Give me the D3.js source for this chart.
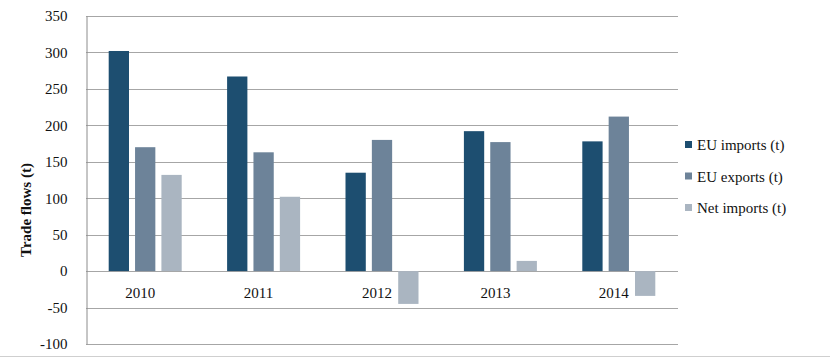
<!DOCTYPE html>
<html>
<head>
<meta charset="utf-8">
<script src="https://cdn.jsdelivr.net/npm/d3@7"></script>
<style>
  body { margin: 0; background: #fff; }
  text { font-family: "Liberation Serif", "Times New Roman", serif; fill: #111; }
</style>
</head>
<body>
<div id="chart"></div>
<script>
var years = ['2010', '2011', '2012', '2013', '2014'];
var seriesNames = ['EU imports (t)', 'EU exports (t)', 'Net imports (t)'];
var euImports = [302, 267, 135, 192, 178];
var euExports = [170, 163, 180, 177, 212];
var netImports = [132, 102, -45, 14, -34];
var yTicks = [-100, -50, 0, 50, 100, 150, 200, 250, 300, 350];
var colors = ['#1d4e70', '#6d8399', '#aab5c1'];

var width = 830, height = 359;
var plotLeft = 86, plotRight = 678, plotTop = 16, plotBottom = 344;

var svg = d3.select('#chart').append('svg')
    .attr('width', width)
    .attr('height', height);

var allSeries = [euImports, euExports, netImports];

var x0 = d3.scaleBand()
    .domain(years)
    .range([plotLeft, plotRight]);

var x1 = d3.scaleBand()
    .domain(seriesNames)
    .range([0, 73])
    .paddingInner(0.23);

var y = d3.scaleLinear()
    .domain([-100, 350])
    .range([plotBottom, plotTop]);

// horizontal gridlines
svg.append('g')
    .selectAll('line')
    .data(yTicks)
    .enter()
    .append('line')
    .attr('x1', plotLeft)
    .attr('x2', plotRight)
    .attr('y1', function (d) { return Math.round(y(d)) + 0.5; })
    .attr('y2', function (d) { return Math.round(y(d)) + 0.5; })
    .attr('stroke', '#a6a6a6')
    .attr('stroke-width', 1);

// y axis, labels only (plain hyphen for negatives, like the source)
var yAxis = d3.axisLeft(y)
    .tickValues(yTicks)
    .tickFormat(function (d) { return String(d); })
    .tickSize(0)
    .tickPadding(19);

var yg = svg.append('g')
    .attr('transform', 'translate(' + (plotLeft + 0.5) + ',0)')
    .call(yAxis);
yg.select('.domain').attr('stroke', '#8c8c8c');
yg.selectAll('text')
    .style('font-family', '"Liberation Serif", "Times New Roman", serif')
    .style('font-size', '15px')
    .attr('fill', '#222');

// bars
var groups = svg.append('g')
    .selectAll('g')
    .data(years)
    .enter()
    .append('g')
    .attr('transform', function (d) {
        return 'translate(' + (x0(d) + (x0.bandwidth() - 73) / 2) + ',0)';
    });

groups.selectAll('rect')
    .data(function (d, i) {
        return seriesNames.map(function (s, j) {
            return {name: s, value: allSeries[j][i], idx: j};
        });
    })
    .enter()
    .append('rect')
    .attr('x', function (d) { return x1(d.name); })
    .attr('width', x1.bandwidth())
    .attr('y', function (d) { return y(Math.max(0, d.value)); })
    .attr('height', function (d) { return Math.abs(y(d.value) - y(0)); })
    .attr('fill', function (d) { return colors[d.idx]; });

// category labels
svg.append('g')
    .selectAll('text')
    .data(years)
    .enter()
    .append('text')
    .attr('x', function (d) { return x0(d) + x0.bandwidth() / 2 - 5; })
    .attr('y', y(0) + 27)
    .attr('text-anchor', 'middle')
    .style('font-size', '15px')
    .text(function (d) { return d; });

// y axis title
svg.append('text')
    .attr('transform', 'translate(31,210) rotate(-90)')
    .attr('text-anchor', 'middle')
    .style('font-size', '15px')
    .style('font-weight', 'bold')
    .text('Trade flows (t)');

// legend
var legend = svg.append('g')
    .selectAll('g')
    .data(seriesNames)
    .enter()
    .append('g')
    .attr('transform', function (d, i) {
        return 'translate(685,' + (145 + i * 31.5) + ')';
    });

legend.append('rect')
    .attr('x', 0)
    .attr('y', -4)
    .attr('width', 7)
    .attr('height', 7)
    .attr('fill', function (d, i) { return colors[i]; });

legend.append('text')
    .attr('x', 12)
    .attr('y', 5)
    .style('font-size', '15px')
    .text(function (d) { return d; });

// outer bottom border
svg.append('line')
    .attr('x1', 0)
    .attr('x2', width)
    .attr('y1', 356.5)
    .attr('y2', 356.5)
    .attr('stroke', '#cfcfcf');
</script>
</body>
</html>
